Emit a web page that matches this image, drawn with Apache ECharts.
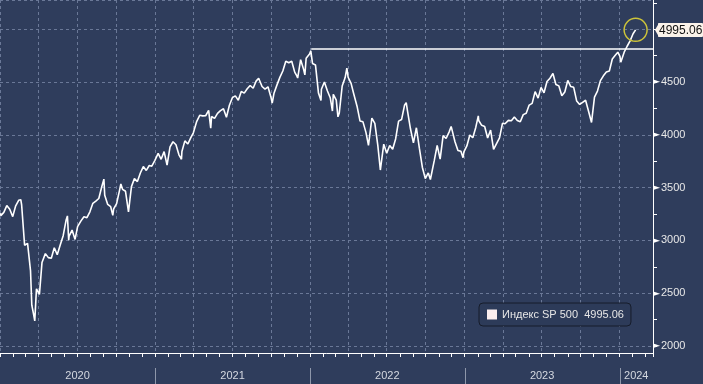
<!DOCTYPE html>
<html>
<head>
<meta charset="utf-8">
<script src="https://cdn.jsdelivr.net/npm/echarts@6/dist/echarts.min.js"></script>
<style>
html,body{margin:0;padding:0;background:#2f3d5c;}
#c{width:703px;height:384px;}
</style>
</head>
<body>
<div id="c"></div>
<script>
// ---- data (S&P 500 closes) ----
const dates2020 = ['2020-01-02','2020-01-03','2020-01-10','2020-01-17','2020-01-24','2020-01-31','2020-02-07','2020-02-14','2020-02-19','2020-02-21','2020-02-28','2020-03-06','2020-03-13','2020-03-16','2020-03-20','2020-03-23','2020-03-27','2020-04-03','2020-04-09','2020-04-17','2020-04-24','2020-05-01','2020-05-08','2020-05-15','2020-05-22','2020-05-29','2020-06-05','2020-06-08','2020-06-11','2020-06-12','2020-06-19','2020-06-26','2020-07-02','2020-07-10','2020-07-17','2020-07-24','2020-07-31','2020-08-07','2020-08-14','2020-08-21','2020-08-28','2020-09-02','2020-09-04','2020-09-11','2020-09-18','2020-09-23','2020-09-25','2020-10-02','2020-10-09','2020-10-12','2020-10-16','2020-10-23','2020-10-30','2020-11-06','2020-11-13','2020-11-20','2020-11-27','2020-12-04','2020-12-11','2020-12-18','2020-12-24','2020-12-31'];
const values2020 = [3257.85,3234.85,3265.35,3329.62,3295.47,3225.52,3327.71,3380.16,3386.15,3337.75,2954.22,2972.37,2711.02,2386.13,2304.92,2237.40,2541.47,2488.65,2789.82,2874.56,2836.74,2830.71,2929.80,2863.70,2955.45,3044.31,3193.93,3232.39,3002.10,3041.31,3097.74,3009.05,3130.01,3185.04,3224.73,3215.63,3271.12,3351.28,3372.85,3397.16,3508.01,3580.84,3426.96,3340.97,3319.47,3236.92,3298.46,3348.44,3477.13,3534.22,3483.81,3465.39,3269.96,3509.44,3585.15,3557.54,3638.35,3699.12,3663.46,3709.41,3703.06,3756.07];

const dates2021 = ['2021-01-08','2021-01-15','2021-01-22','2021-01-29','2021-02-05','2021-02-12','2021-02-19','2021-02-26','2021-03-04','2021-03-05','2021-03-12','2021-03-19','2021-03-26','2021-04-01','2021-04-09','2021-04-16','2021-04-23','2021-04-30','2021-05-07','2021-05-12','2021-05-14','2021-05-21','2021-05-28','2021-06-04','2021-06-11','2021-06-18','2021-06-25','2021-07-02','2021-07-09','2021-07-16','2021-07-23','2021-07-30','2021-08-06','2021-08-13','2021-08-20','2021-08-27','2021-09-02','2021-09-10','2021-09-17','2021-09-24','2021-10-01','2021-10-04','2021-10-08','2021-10-15','2021-10-22','2021-10-29','2021-11-05','2021-11-12','2021-11-19','2021-11-26','2021-11-30','2021-12-03','2021-12-10','2021-12-17','2021-12-20','2021-12-23','2021-12-31'];
const values2021 = [3824.68,3768.25,3841.47,3714.24,3886.83,3934.83,3906.71,3811.15,3768.47,3841.94,3943.34,3913.10,3974.54,4019.87,4128.80,4185.47,4180.17,4181.17,4232.60,4063.04,4173.85,4155.86,4204.11,4229.89,4247.44,4166.45,4280.70,4352.34,4369.55,4327.16,4411.79,4395.26,4436.52,4468.00,4441.67,4509.37,4536.95,4458.58,4432.99,4455.48,4357.04,4300.46,4391.34,4471.37,4544.90,4605.38,4697.53,4682.85,4697.96,4594.62,4567.00,4538.43,4712.02,4620.64,4568.02,4725.79,4766.18];

const dates2022 = ['2022-01-03','2022-01-07','2022-01-14','2022-01-21','2022-01-27','2022-01-28','2022-02-04','2022-02-11','2022-02-18','2022-02-23','2022-02-25','2022-03-04','2022-03-08','2022-03-11','2022-03-18','2022-03-25','2022-03-29','2022-04-01','2022-04-08','2022-04-14','2022-04-22','2022-04-29','2022-05-06','2022-05-13','2022-05-19','2022-05-20','2022-05-27','2022-06-03','2022-06-10','2022-06-16','2022-06-17','2022-06-24','2022-07-01','2022-07-08','2022-07-15','2022-07-22','2022-07-29','2022-08-05','2022-08-12','2022-08-16','2022-08-19','2022-08-26','2022-09-02','2022-09-09','2022-09-16','2022-09-23','2022-09-30','2022-10-07','2022-10-12','2022-10-14','2022-10-21','2022-10-28','2022-11-04','2022-11-11','2022-11-18','2022-11-25','2022-11-30','2022-12-02','2022-12-09','2022-12-16','2022-12-23','2022-12-28','2022-12-30'];
const values2022 = [4796.56,4677.03,4662.85,4397.94,4326.51,4431.85,4500.53,4418.64,4348.87,4225.50,4384.65,4328.87,4170.70,4204.31,4463.12,4543.06,4631.60,4545.86,4488.28,4392.59,4271.78,4131.93,4123.34,4023.89,3900.79,3901.36,4158.24,4108.54,3900.86,3666.77,3674.84,3911.74,3825.33,3899.38,3863.16,3961.63,4130.29,4145.19,4280.15,4305.20,4228.48,4057.66,3924.26,4067.36,3873.33,3693.23,3585.62,3639.66,3577.03,3583.07,3752.75,3901.06,3770.55,3992.93,3965.34,4026.12,4080.11,4071.70,3934.38,3852.36,3844.82,3783.22,3839.50];

const dates2023 = ['2023-01-06','2023-01-13','2023-01-20','2023-01-27','2023-02-02','2023-02-03','2023-02-10','2023-02-17','2023-02-24','2023-03-03','2023-03-10','2023-03-13','2023-03-17','2023-03-24','2023-03-31','2023-04-06','2023-04-14','2023-04-21','2023-04-28','2023-05-05','2023-05-12','2023-05-19','2023-05-26','2023-06-02','2023-06-09','2023-06-16','2023-06-23','2023-06-30','2023-07-07','2023-07-14','2023-07-21','2023-07-28','2023-07-31','2023-08-04','2023-08-11','2023-08-18','2023-08-25','2023-09-01','2023-09-08','2023-09-15','2023-09-22','2023-09-29','2023-10-06','2023-10-13','2023-10-20','2023-10-27','2023-11-03','2023-11-10','2023-11-17','2023-11-24','2023-12-01','2023-12-08','2023-12-15','2023-12-22','2023-12-28','2023-12-29'];
const values2023 = [3895.08,3999.09,3972.61,4070.56,4179.76,4136.48,4090.46,4079.09,3970.04,4045.64,3861.59,3855.76,3916.64,3970.99,4109.31,4105.02,4137.64,4133.52,4169.48,4136.25,4124.08,4191.98,4205.45,4282.37,4298.86,4409.59,4348.33,4450.38,4398.95,4505.42,4536.34,4582.23,4588.96,4478.03,4464.05,4369.71,4405.71,4515.77,4457.49,4450.32,4320.06,4288.05,4308.50,4327.78,4224.16,4117.37,4358.34,4415.24,4514.02,4559.34,4594.63,4604.37,4719.19,4754.63,4783.35,4769.83];

const dates2024 = ['2024-01-02','2024-01-04','2024-01-05','2024-01-12','2024-01-19','2024-01-26','2024-02-02','2024-02-08'];
const values2024 = [4742.83,4688.68,4697.24,4783.83,4839.81,4890.97,4958.61,4995.06];

const seriesName = 'Индекс SP 500';
const yearLabels = ['2020','2021','2022','2023','2024'];
const yLabelValues = [2000,2500,3000,3500,4000,4500]; // 5000 is hidden under the last-value tag
const yTickValues = [2000,2250,2500,2750,3000,3250,3500,3750,4000,4250,4500,4750,5000,5250];
const prevHighDate = '2022-01-04';
const prevHighValue = 4818.62;
const axisMinDate = '2020-01-01';
const axisMaxDate = '2024-03-20';
const yMin = 1933, yMax = 5278;

// ---- build ----
const allDates = [].concat(dates2020, dates2021, dates2022, dates2023, dates2024);
const allValues = [].concat(values2020, values2021, values2022, values2023, values2024);
const seriesData = allDates.map((d, i) => [d, allValues[i]]);
const lastDate = allDates[allDates.length - 1];
const lastValue = allValues[allValues.length - 1];
const DAY = 86400000;
const FONT = 'Liberation Sans, Arial, sans-serif';
const GRID_COLOR = '#6a7897';
const TAG_COLOR = '#fbf3ea';

const chart = echarts.init(document.getElementById('c'), null, {renderer: 'canvas'});
chart.setOption({
  animation: false,
  backgroundColor: '#2f3d5c',
  grid: {left: 0, right: 50, top: 0, bottom: 31, containLabel: false},
  legend: {
    left: 479, top: 303,
    backgroundColor: '#2d3b59',
    borderColor: '#161c2a', borderWidth: 1, borderRadius: 4,
    padding: [6, 7, 6, 8],
    icon: 'rect', itemWidth: 10, itemHeight: 10, itemGap: 5,
    textStyle: {color: '#e6e6e6', fontSize: 11, fontFamily: FONT},
    formatter: n => n + '  ' + lastValue.toFixed(2),
    data: [seriesName]
  },
  xAxis: [{
    type: 'time', min: axisMinDate, max: axisMaxDate,
    minInterval: 28 * DAY, maxInterval: 31 * DAY,
    axisLine: {show: true, lineStyle: {color: '#ffffff', width: 1}},
    axisTick: {show: true, length: 4, lineStyle: {color: '#ffffff'}},
    axisLabel: {show: false},
    splitLine: {show: false}
  }, {
    type: 'time', min: axisMinDate, max: axisMaxDate, position: 'bottom',
    minInterval: 89 * DAY, maxInterval: 93 * DAY,
    axisLine: {show: false}, axisTick: {show: false}, axisLabel: {show: false},
    splitLine: {show: true, lineStyle: {color: GRID_COLOR, type: [3, 3], width: 1}}
  }],
  yAxis: [{
    type: 'value', position: 'right', min: yMin, max: yMax, splitNumber: 7,
    axisLine: {show: true, lineStyle: {color: '#ffffff', width: 1}},
    axisTick: {show: false},
    axisLabel: {
      margin: 0,
      formatter: v => yLabelValues.indexOf(v) >= 0 ? '{a|►}{t|' + v + '}' : '',
      rich: {
        a: {color: '#ffffff', fontSize: 9, fontFamily: 'DejaVu Sans'},
        t: {color: '#e8e8e8', fontSize: 11, fontFamily: FONT, padding: [0, 0, 0, 1]}
      }
    },
    splitLine: {show: true, lineStyle: {color: GRID_COLOR, type: [3, 3], width: 1}}
  }, {
    type: 'value', position: 'right', min: yMin, max: yMax,
    axisLine: {show: false}, axisLabel: {show: false}, splitLine: {show: false},
    axisTick: {show: true, customValues: yTickValues, length: 4, lineStyle: {color: '#ffffff'}}
  }],
  series: [{
    name: seriesName, type: 'line', xAxisIndex: 0, yAxisIndex: 0,
    data: seriesData, showSymbol: false, symbol: 'none',
    lineStyle: {color: '#ffffff', width: 1.6},
    itemStyle: {color: '#fbeeee'},
    markLine: {
      silent: true, symbol: ['none', 'none'], animation: false,
      lineStyle: {color: '#ffffff', width: 1.5, type: 'solid'},
      label: {show: false},
      data: [
        [{coord: [prevHighDate, prevHighValue]}, {coord: [axisMaxDate, prevHighValue]}]
      ]
    },
    markPoint: {
      symbol: 'circle', symbolSize: 23, silent: true,
      itemStyle: {color: 'rgba(0,0,0,0)', borderColor: '#cdc43a', borderWidth: 1.5},
      label: {show: false},
      data: [{coord: [lastDate, lastValue]}]
    }
  }]
});

// year labels centred in each year's span, separators at year boundaries,
// and the last-value tag on the right axis (positions from the chart's scales)
const bounds = yearLabels.map((y, i) => i === 0 ? axisMinDate : y + '-01-01').concat([axisMaxDate]);
const px = bounds.map(d => chart.convertToPixel({xAxisIndex: 0}, d));
const gfx = [];
yearLabels.forEach((y, i) => {
  gfx.push({type: 'text', x: (px[i] + px[i + 1]) / 2, y: 376,
    style: {text: y, fill: '#d4d8e0', font: '11px ' + FONT, textAlign: 'center', textVerticalAlign: 'middle'}});
  if (i > 0) {
    gfx.push({type: 'line', shape: {x1: Math.round(px[i]) + 0.5, y1: 368, x2: Math.round(px[i]) + 0.5, y2: 384},
      style: {stroke: '#8e97aa', lineWidth: 1}});
  }
});
const tagY = Math.round(chart.convertToPixel({yAxisIndex: 0}, lastValue));
const tagX = Math.round(px[px.length - 1]);
gfx.push({type: 'polygon', z: 100,
  shape: {points: [[tagX + 2, tagY], [tagX + 6, tagY - 7], [tagX + 6, tagY + 7]]},
  style: {fill: TAG_COLOR}});
gfx.push({type: 'rect', z: 100,
  shape: {x: tagX + 5, y: tagY - 7, width: 703 - tagX - 5, height: 14, r: 1},
  style: {fill: TAG_COLOR}});
gfx.push({type: 'text', z: 101, x: tagX + 6, y: tagY + 0.5,
  style: {text: lastValue.toFixed(2), fill: '#111111', font: '12px ' + FONT, textVerticalAlign: 'middle'}});
chart.setOption({graphic: gfx});
</script>
</body>
</html>
